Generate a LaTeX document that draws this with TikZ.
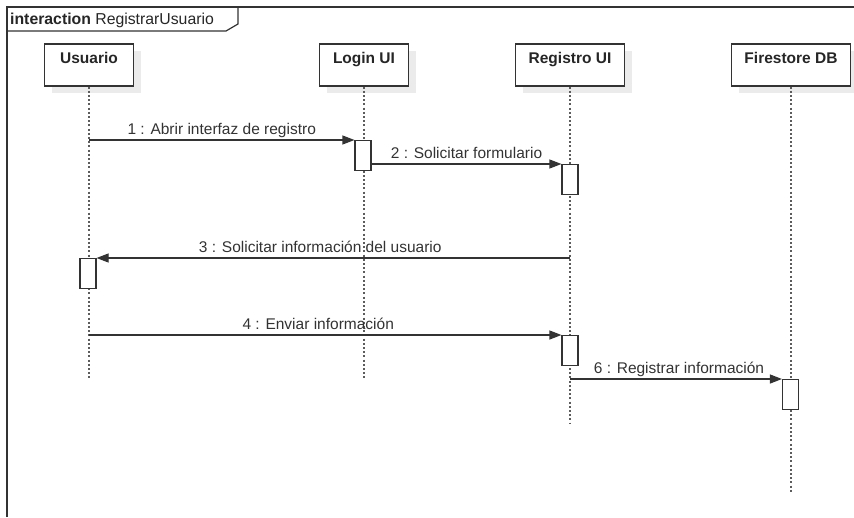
\documentclass[tikz,border=0pt]{standalone}
\usepackage{fontspec}
\setmainfont{Liberation Sans}
\usetikzlibrary{arrows.meta,shadows}
\definecolor{ln}{HTML}{333333}
\definecolor{tx}{HTML}{333333}
\tikzset{
  frameline/.style={draw=ln, line width=1.2pt},
  lbox/.style={draw=ln, fill=white, line width=1.2pt, minimum height=42pt, inner sep=0pt,
     general shadow={shadow xshift=7pt, shadow yshift=-7pt, fill=black!8}},
  ltext/.style={anchor=base, text=black!85, font=\fontsize{15.5}{18}\selectfont\bfseries, inner sep=0pt},
  lifeline/.style={draw=ln!80, line width=1.3pt, dash pattern=on 2pt off 2.2pt},
  actbox/.style={draw=ln, fill=white, line width=1.1pt, minimum width=16pt, minimum height=30pt, inner sep=0pt, anchor=north},
  msg/.style={draw=ln, line width=1.1pt, -{Triangle[length=12pt,width=9pt]}},
  mlabel/.style={anchor=base, text=tx, font=\fontsize{15.5}{18}\selectfont, inner sep=0pt, yshift=5.5pt},
}
\begin{document}
\begin{tikzpicture}[x=1pt,y=-1pt]
\useasboundingbox (0,0) rectangle (854,517);
% frame
\draw[frameline] (7,517) -- (7,7) -- (856,7);
\draw[frameline] (7,31) -- (226,31) -- (238,24) -- (238,7);
\node[anchor=base west, inner sep=0pt, text=black!85, font=\fontsize{15.8}{18}\selectfont] (title) at (10,24) {\textbf{interaction} RegistrarUsuario};
% lifeline heads
\node[lbox, minimum width=89pt] (usuario) at (89,65) {};
\node[lbox, minimum width=89pt] (login) at (364,65) {};
\node[lbox, minimum width=109pt] (registro) at (570,65) {};
\node[lbox, minimum width=119pt] (fire) at (791,65) {};
\node[ltext] (tu) at ([yshift=-20pt]usuario.north) {Usuario};
\node[ltext] (tl) at ([yshift=-20pt]login.north) {Login UI};
\node[ltext] (tr) at ([yshift=-20pt]registro.north) {Registro UI};
\node[ltext] (tf) at ([yshift=-20pt]fire.north) {Firestore DB};
% lifeline ends
\coordinate (eu) at (89,378);
\coordinate (el) at (364,378);
\coordinate (er) at (570,423);
\coordinate (ef) at (791,493);
\draw[lifeline] (usuario.south) -- (eu);
\draw[lifeline] (login.south) -- (el);
\draw[lifeline] (registro.south) -- (er);
\draw[lifeline] (fire.south) -- (ef);
% activations
\node[actbox] (a1) at (363,140) {};
\node[actbox] (a2) at (570,164) {};
\node[actbox] (a3) at (88,258) {};
\node[actbox] (a4) at (570,335) {};
\node[actbox] (a6) at (790.5,379) {};
% message start points
\coordinate (s1) at (89,140);
\coordinate (s2) at (a1.east |- a2.north);
\coordinate (s3) at (570,258);
\coordinate (s4) at (89,335);
\coordinate (s6) at (570,379);
\draw[msg] (s1) -- (a1.north west) node[mlabel, midway] (l1) {1 : Abrir interfaz de registro};
\draw[msg] (s2) -- (a2.north west) node[mlabel, midway] (l2) {2 : Solicitar formulario};
\draw[msg] (s3) -- (a3.north east) node[mlabel, midway, xshift=-13pt] (l3) {3 : Solicitar información del usuario};
\draw[msg] (s4) -- (a4.north west) node[mlabel, midway, xshift=-7pt] (l4) {4 : Enviar información};
\draw[msg] (s6) -- (a6.north west) node[mlabel, midway, xshift=3pt] (l6) {6 : Registrar información};
\end{tikzpicture}
\end{document}
